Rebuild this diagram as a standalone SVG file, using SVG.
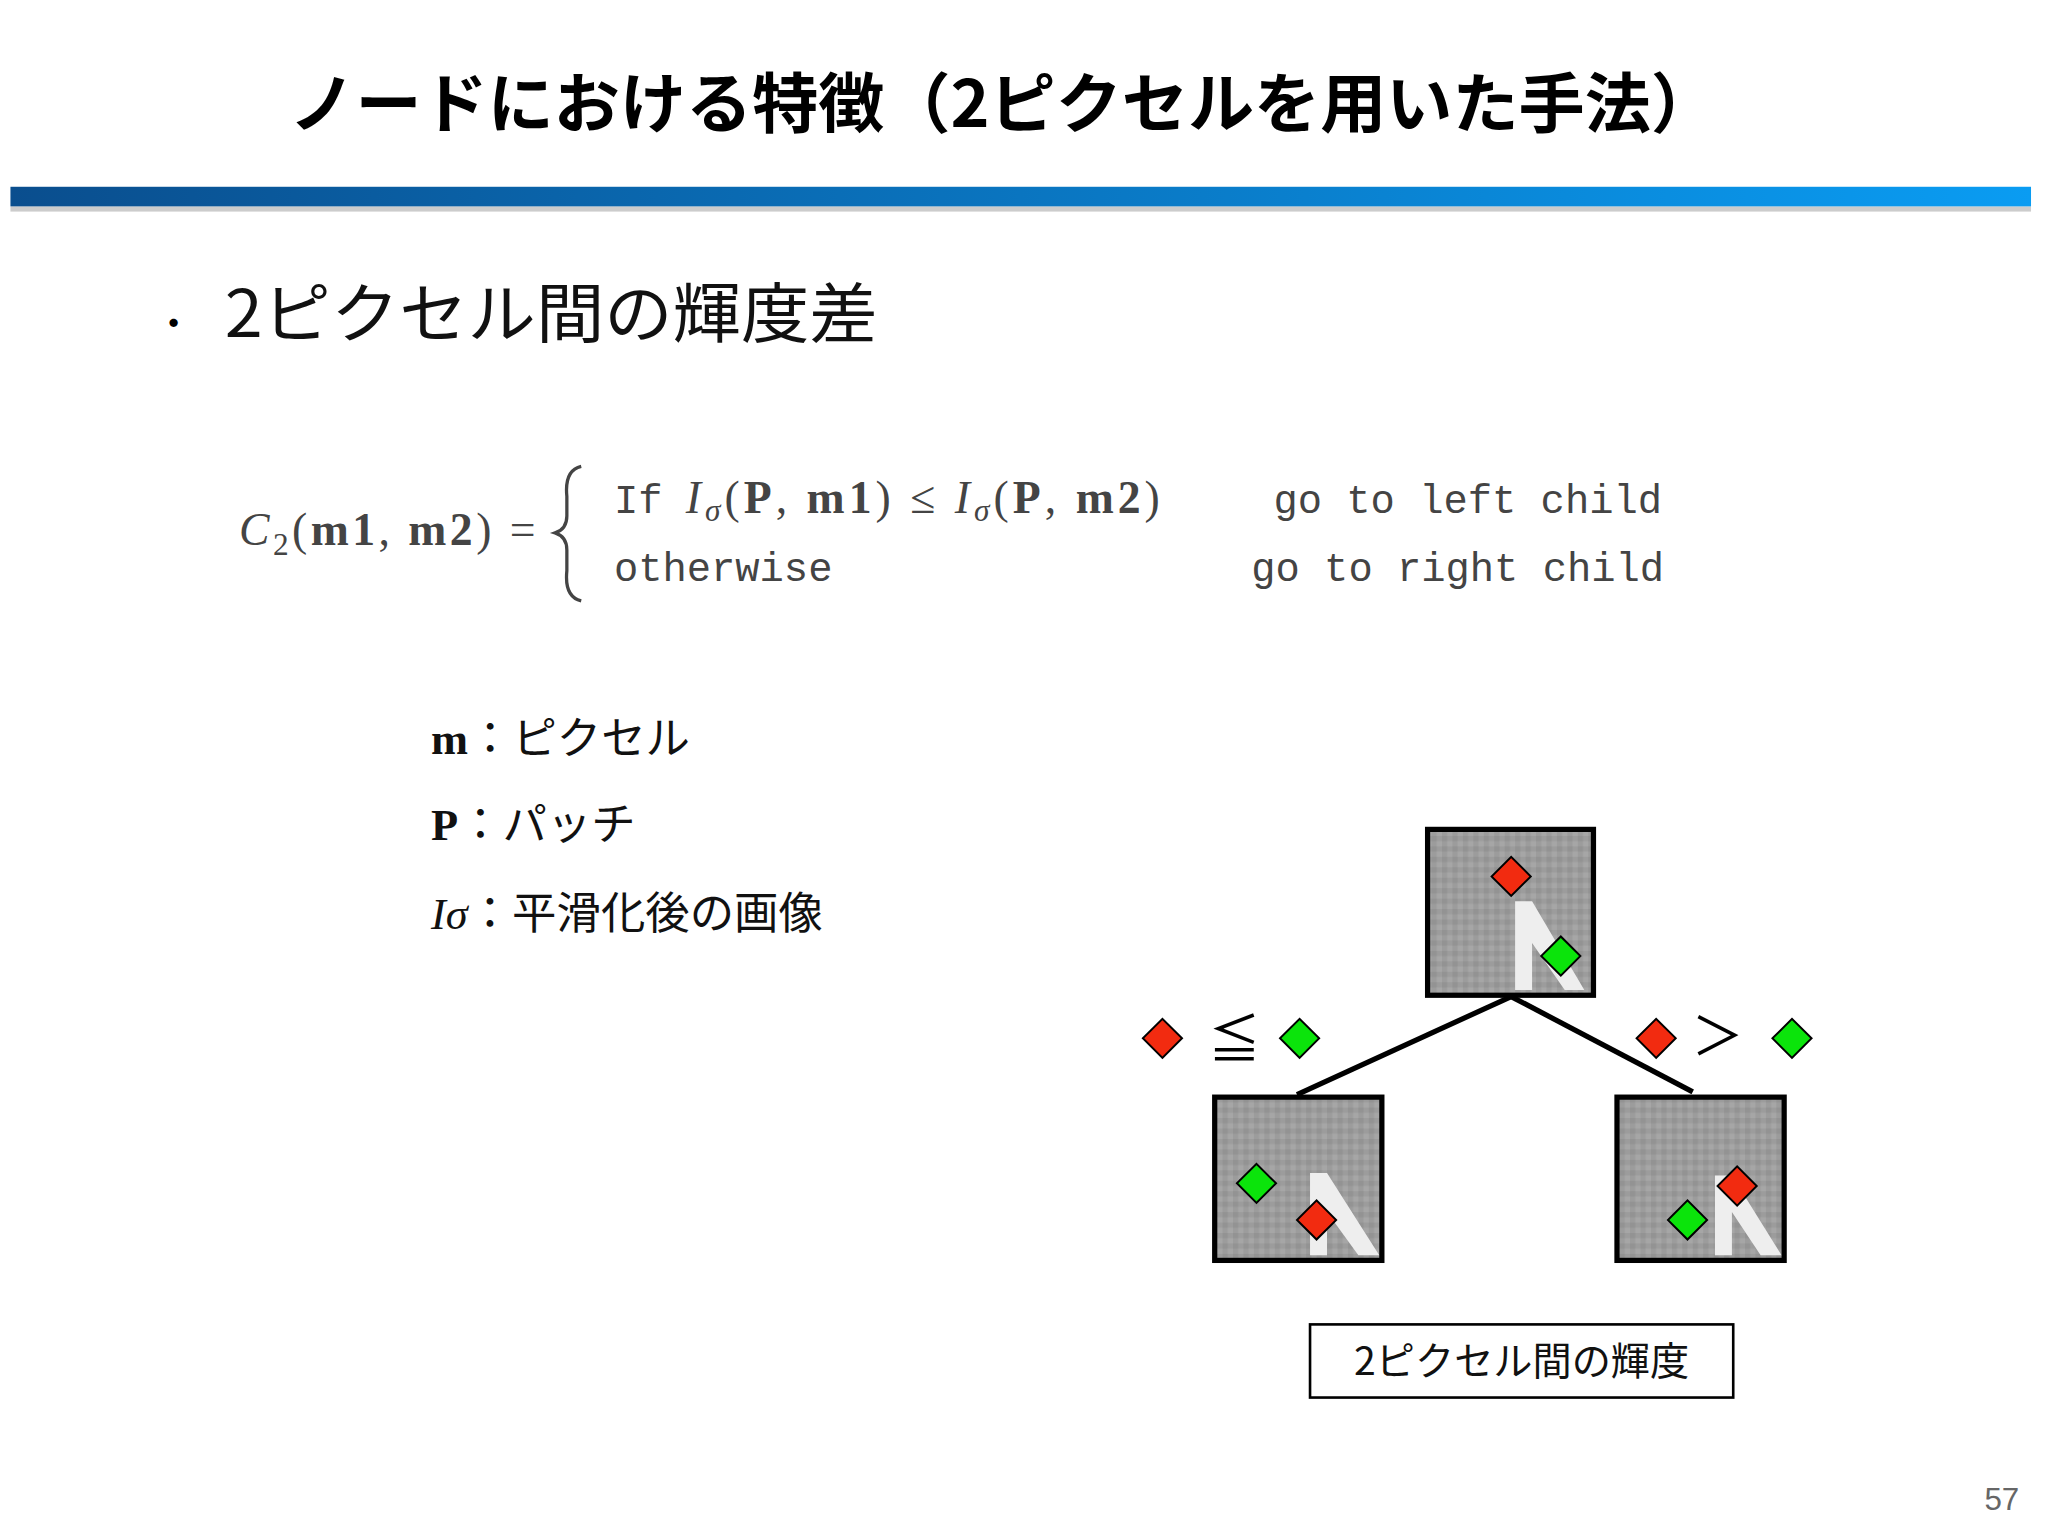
<svg xmlns="http://www.w3.org/2000/svg" width="2048" height="1536" viewBox="0 0 2048 1536">
<defs>
<linearGradient id="bar" x1="0" x2="1"><stop offset="0" stop-color="#0a4e8e"/><stop offset="1" stop-color="#0a9cf2"/></linearGradient>
<pattern id="noise" width="8" height="8" patternUnits="userSpaceOnUse"><rect width="8" height="8" fill="#9c9c9c"/><rect width="4" height="4" fill="#939393"/><rect x="4" y="4" width="4" height="4" fill="#a6a6a6"/></pattern>
</defs>
<style>
.jp{font-family:"Noto Sans CJK JP","Noto Sans",sans-serif}
.mono{font-family:"Liberation Mono","DejaVu Sans Mono",monospace;font-size:31px;fill:#444}
.ser{font-family:"Liberation Serif",serif;font-size:35px;fill:#444}
.patch{fill:url(#noise);stroke:#000;stroke-width:4}
.r{fill:#f22b10;stroke:#000;stroke-width:1.5}
.g{fill:#0be40b;stroke:#000;stroke-width:1.5}
.edge{stroke:#000;stroke-width:4;fill:none}
</style>
<rect width="2048" height="1536" fill="#fff"/>
<g transform="scale(1.30612)">
<g id="title"><text x="768" y="97" text-anchor="middle" class="jp" font-size="50" font-weight="bold" fill="#000" textLength="1093" lengthAdjust="spacingAndGlyphs">ノードにおける特徴（2ピクセルを用いた手法）</text>
<rect x="8" y="158" width="1547" height="4" fill="#ccc"/>
<rect x="8" y="143" width="1547" height="15" fill="url(#bar)"/></g>
<g id="bullet"><text x="118" y="258" class="jp" font-size="30">・</text><text x="172" y="258" class="jp" font-size="50" fill="#111" textLength="500" lengthAdjust="spacingAndGlyphs">2ピクセル間の輝度差</text></g>
<g id="formula">
<text x="183" y="417" class="ser" textLength="227" lengthAdjust="spacing"><tspan font-style="italic">C</tspan><tspan font-size="24" dy="8">2</tspan><tspan dy="-8">(</tspan><tspan font-weight="bold">m1</tspan>, <tspan font-weight="bold">m2</tspan>) =</text>
<path d="M445,357 Q432,360 434,380 L434,395 Q434,405 425,408 Q434,411 434,421 L434,437 Q432,457 445,460" fill="none" stroke="#444" stroke-width="2.5"/>
<text x="470" y="393" class="mono">If</text>
<text x="525" y="393" class="ser" textLength="363" lengthAdjust="spacing"><tspan font-style="italic">I</tspan><tspan font-size="24" dy="6" font-style="italic">σ</tspan><tspan dy="-6">(</tspan><tspan font-weight="bold">P</tspan>, <tspan font-weight="bold">m1</tspan>) ≤ <tspan font-style="italic">I</tspan><tspan font-size="24" dy="6" font-style="italic">σ</tspan><tspan dy="-6">(</tspan><tspan font-weight="bold">P</tspan>, <tspan font-weight="bold">m2</tspan>)</text>
<text x="975" y="393" class="mono">go to left child</text>
<text x="470" y="445" class="mono">otherwise</text>
<text x="958" y="445" class="mono">go to right child</text>
</g>
<g id="defs" font-size="34" fill="#111">
<text x="330" y="577"><tspan font-family="Liberation Serif,serif" font-weight="bold">m</tspan><tspan class="jp">：ピクセル</tspan></text>
<text x="330" y="643"><tspan font-family="Liberation Serif,serif" font-weight="bold">P</tspan><tspan class="jp">：パッチ</tspan></text>
<text x="330" y="711"><tspan font-family="Liberation Serif,serif" font-style="italic">Iσ</tspan><tspan class="jp">：平滑化後の画像</tspan></text>
</g>
<g id="connectors"><path class="edge" d="M1157,763 L993,838"/><path class="edge" d="M1157,763 L1296,836"/></g>
<g id="top"><rect class="patch" x="1093" y="635" width="127" height="127"/>
<polygon points="1160,690 1173,690 1213,758 1198,758 1173,722 1173,758 1160,758" fill="#eee"/>
<rect class="r" x="-10.6" y="-10.6" width="21.2" height="21.2" transform="translate(1157,671) rotate(45)"/>
<rect class="g" x="-10.6" y="-10.6" width="21.2" height="21.2" transform="translate(1195,732) rotate(45)"/></g>
<g id="left"><rect class="patch" x="930" y="840" width="128" height="125"/>
<polygon points="1003,898 1016,898 1056,961 1040,961 1016,928 1016,961 1003,961" fill="#eee"/>
<rect class="g" x="-10.6" y="-10.6" width="21.2" height="21.2" transform="translate(962,906) rotate(45)"/>
<rect class="r" x="-10.6" y="-10.6" width="21.2" height="21.2" transform="translate(1008,934) rotate(45)"/></g>
<g id="right"><rect class="patch" x="1238" y="840" width="128" height="125"/>
<polygon points="1313,900 1326,900 1364,961 1348,961 1326,928 1326,961 1313,961" fill="#eee"/>
<rect class="r" x="-10.6" y="-10.6" width="21.2" height="21.2" transform="translate(1330,908) rotate(45)"/>
<rect class="g" x="-10.6" y="-10.6" width="21.2" height="21.2" transform="translate(1292,934) rotate(45)"/></g>
<g id="legend">
<rect class="r" x="-10.6" y="-10.6" width="21.2" height="21.2" transform="translate(890,795) rotate(45)"/>
<text x="945" y="810" text-anchor="middle" class="jp" font-size="40">≦</text>
<rect class="g" x="-10.6" y="-10.6" width="21.2" height="21.2" transform="translate(995,795) rotate(45)"/>
<rect class="r" x="-10.6" y="-10.6" width="21.2" height="21.2" transform="translate(1268,795) rotate(45)"/>
<text x="1315" y="808" text-anchor="middle" class="jp" font-size="40">＞</text>
<rect class="g" x="-10.6" y="-10.6" width="21.2" height="21.2" transform="translate(1372,795) rotate(45)"/>
</g>
<g id="label"><rect x="1003" y="1014" width="324" height="56" fill="#fff" stroke="#000" stroke-width="2"/>
<text x="1165" y="1053" text-anchor="middle" class="jp" font-size="30" fill="#111">2ピクセル間の輝度</text></g>
<text x="1546" y="1156" text-anchor="end" font-family="Liberation Sans,sans-serif" font-size="24" fill="#666">57</text>
</g>
</svg>
